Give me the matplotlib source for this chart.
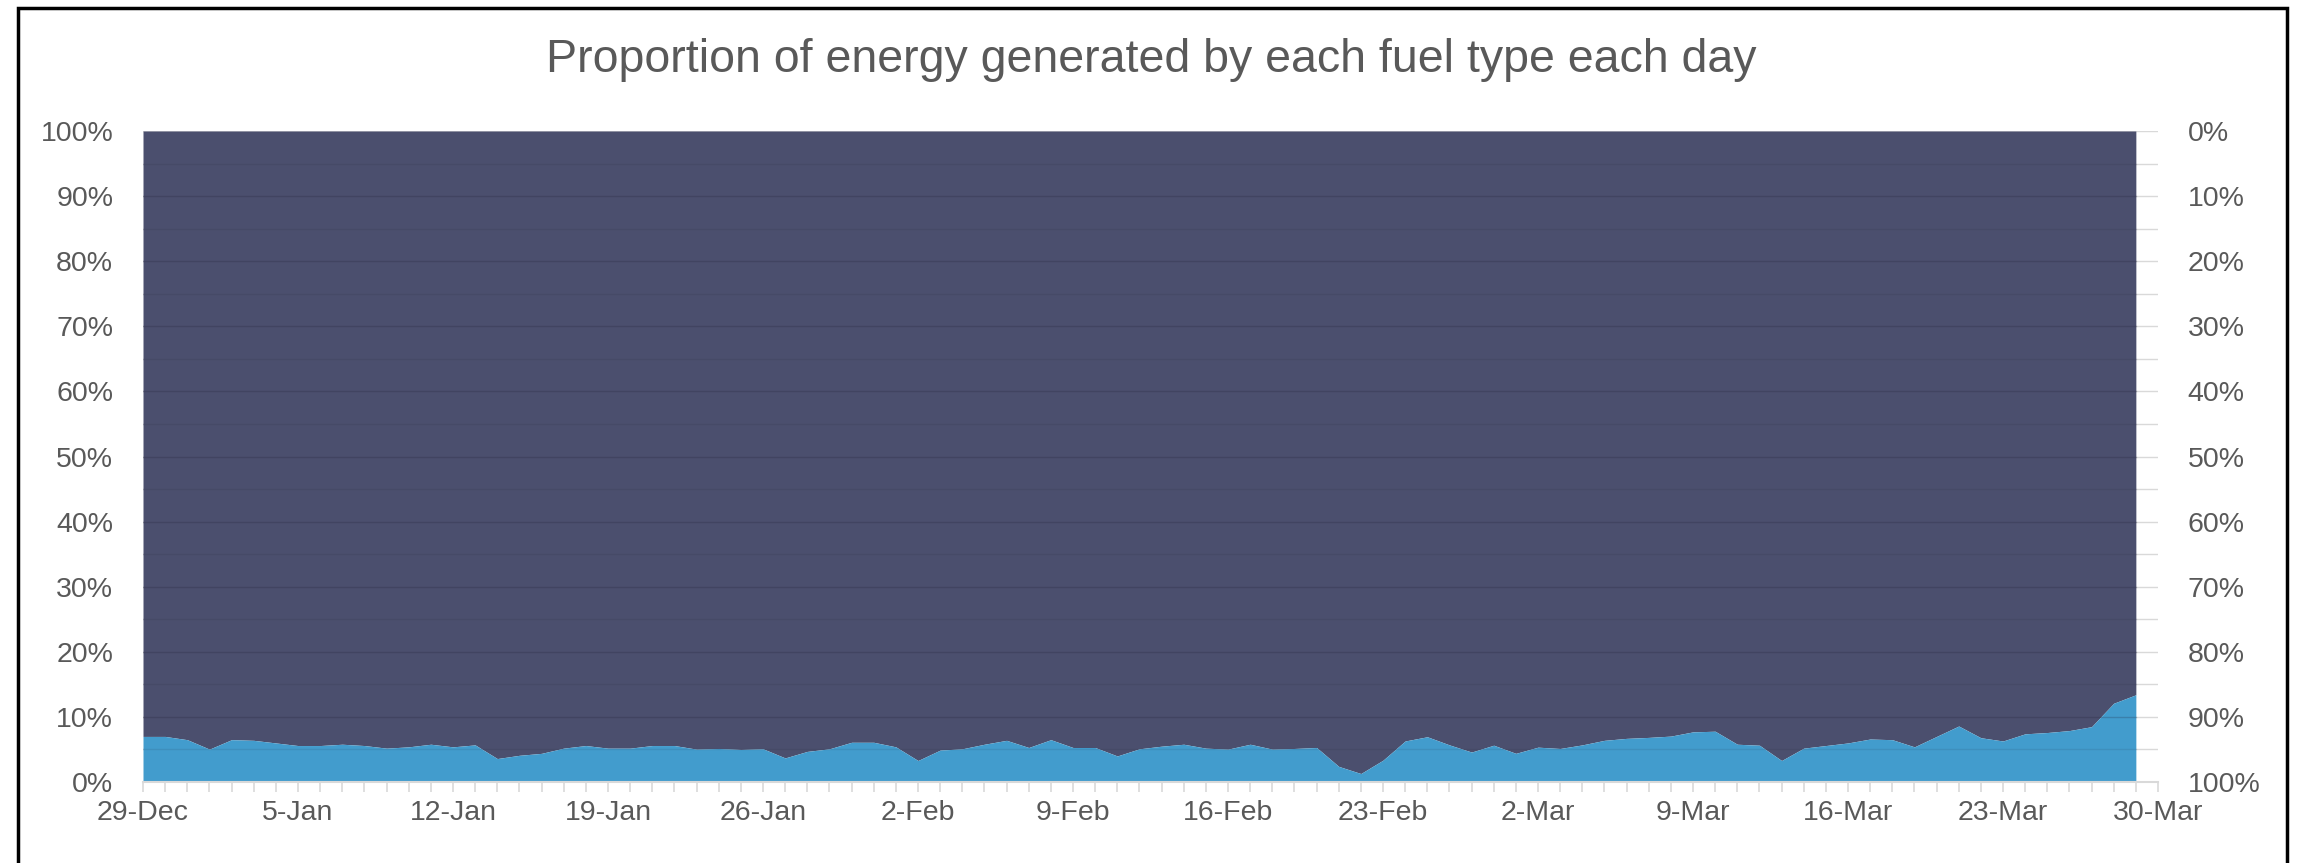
import matplotlib
matplotlib.use("Agg")
import matplotlib.pyplot as plt
import numpy as np
import pandas as pd
from matplotlib.patches import Rectangle
from matplotlib import rcParams

rcParams['font.family'] = ['Liberation Sans', 'DejaVu Sans']

# daily share (%) of the lower (blue) series, 29-Dec to 29-Mar
share_low = [7.0, 7.0, 6.5, 5.05, 6.5, 6.4, 6.0, 5.6, 5.6, 5.8,
             5.6, 5.2, 5.4, 5.8, 5.4, 5.7, 3.6, 4.1, 4.4, 5.2,
             5.6, 5.2, 5.2, 5.6, 5.6, 5.05, 5.15, 5.0, 5.1, 3.7,
             4.7, 5.1, 6.1, 6.1, 5.4, 3.3, 4.9, 5.1, 5.8, 6.4,
             5.3, 6.5, 5.3, 5.3, 4.0, 5.1, 5.5, 5.8, 5.2, 5.05,
             5.8, 5.05, 5.15, 5.3, 2.4, 1.3, 3.35, 6.3, 6.95, 5.7,
             4.6, 5.65, 4.4, 5.35, 5.15, 5.7, 6.4, 6.7, 6.85, 7.05,
             7.7, 7.8, 5.8, 5.65, 3.3, 5.2, 5.6, 6.0, 6.6, 6.5,
             5.4, 7.0, 8.6, 6.8, 6.3, 7.4, 7.6, 7.9, 8.5, 12.1,
             13.4]
start_date = '2024-12-29'
axis_days = 91          # axis runs 29-Dec .. 30-Mar
label_step = 7

dark = '#4B4F6E'
blue = '#429CCD'
text_col = '#595959'

dates = pd.date_range(start_date, periods=axis_days + 1)
x = np.arange(len(share_low))
low = np.array(share_low)

fig = plt.figure(figsize=(23.02, 8.63), dpi=100)
W, H = 2302, 863
ax = fig.add_axes([143 / W, 1 - 782 / H, (2158 - 143) / W, (782 - 131) / H])

# light gridlines behind everything
for g in range(5, 101, 5):
    ax.axhline(g, color='#D9D9D9', lw=1.0, zorder=0)

ax.fill_between(x, low, 100, color=dark, lw=0, zorder=1)
ax.fill_between(x, 0, low, color=blue, lw=0, zorder=2)

# gridlines showing through the areas
for g in range(5, 100, 5):
    a = 0.22 if g % 10 == 0 else 0.10
    ax.plot([0, x[-1]], [g, g], color='#1E2033', alpha=a, lw=1.0, zorder=3)

ax.set_xlim(0, axis_days)
ax.set_ylim(0, 100)
ax.set_yticks(range(0, 101, 10))
ax.set_yticklabels([f'{v}%' for v in range(0, 101, 10)])
ax.set_xticks(range(0, axis_days + 1, label_step))
ax.set_xticklabels([d.strftime('%-d-%b') for d in dates[::label_step]])
ax.set_xticks(range(0, axis_days + 1), minor=True)

for s in ['top', 'left', 'right']:
    ax.spines[s].set_visible(False)
ax.spines['bottom'].set_color('#D9D9D9')
ax.spines['bottom'].set_linewidth(1.5)
ax.spines['bottom'].set_zorder(4)
ax.tick_params(axis='y', length=0, pad=21.5, labelsize=20.5, labelcolor=text_col)
ax.tick_params(axis='x', which='both', length=7, width=1.2, color='#D9D9D9',
               pad=6, labelsize=20.5, labelcolor=text_col)

ax2 = ax.twinx()
ax2.set_ylim(100, 0)
ax2.set_yticks(range(0, 101, 10))
ax2.set_yticklabels([f'{v}%' for v in range(0, 101, 10)])
for s in ax2.spines.values():
    s.set_visible(False)
ax2.tick_params(axis='y', length=0, pad=21.5, labelsize=20.5, labelcolor=text_col)

fig.text(0.5, 1 - 60 / H, 'Proportion of energy generated by each fuel type each day',
         ha='center', va='center', fontsize=33.5, color=text_col)

fig.patches.append(Rectangle((18 / W, -0.05), (2287 - 18) / W, 0.05 + 1 - 8 / H,
                             transform=fig.transFigure, fill=False,
                             edgecolor='black', lw=2.5))

plt.savefig('out.png', dpi=100)
